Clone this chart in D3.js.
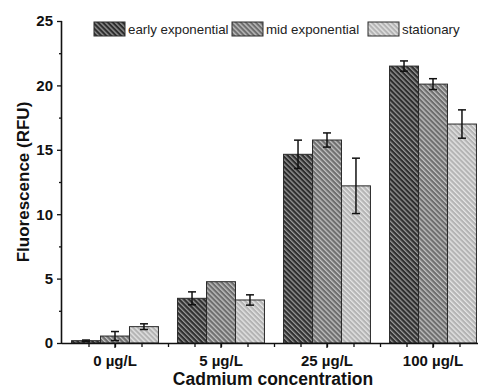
<!DOCTYPE html>
<html>
<head>
<meta charset="utf-8">
<script src="https://cdn.jsdelivr.net/npm/d3@7"></script>
<style>
  html, body { margin: 0; padding: 0; background: #fff; }
  svg { display: block; font-family: "Liberation Sans", Arial, sans-serif; }
</style>
</head>
<body>
<div id="target"></div>
<script>
const categories = ["0 µg/L", "5 µg/L", "25 µg/L", "100 µg/L"];
const seriesNames = ["early exponential", "mid exponential", "stationary"];
const earlyValues = [0.18, 3.47, 14.65, 21.5];
const earlyErrors = [0.05, 0.5, 1.1, 0.4];
const midValues = [0.54, 4.76, 15.76, 20.1];
const midErrors = [0.35, 0, 0.55, 0.42];
const statValues = [1.27, 3.34, 12.2, 17.0];
const statErrors = [0.22, 0.4, 2.15, 1.1];
const yMajorTicks = [0, 5, 10, 15, 20, 25];

function drawBars() {
  const width = 478,
    height = 390,
    left = 62,
    top = 21,
    bottom = 343,
    right = 486;

  const values = [earlyValues, midValues, statValues];
  const errors = [earlyErrors, midErrors, statErrors];
  const fills = [
    { base: "#2e2e2e", stripe: "#9a9a9a" },
    { base: "#6e6e6e", stripe: "#c4c4c4" },
    { base: "#b4b4b4", stripe: "#e6e6e6" }
  ];

  const rows = [];
  categories.forEach((c, i) => {
    seriesNames.forEach((s, j) => {
      rows.push({ cat: c, series: j, value: values[j][i], err: errors[j][i] });
    });
  });

  const x = d3.scaleBand()
    .domain(categories)
    .range([left, right])
    .paddingInner(0.18)
    .paddingOuter(0.09);

  const xSub = d3.scaleBand()
    .domain(d3.range(seriesNames.length))
    .range([0, x.bandwidth()]);

  const xLin = d3.scaleLinear()
    .domain([0.5, 4.5])
    .range([left, right]);

  const y = d3.scaleLinear()
    .domain([0, 25])
    .range([bottom, top]);

  const svg = d3.select("#target")
    .append("svg")
    .attr("width", width)
    .attr("height", height);

  const defs = svg.append("defs");
  fills.forEach((f, i) => {
    const p = defs.append("pattern")
      .attr("id", "hatch" + i)
      .attr("patternUnits", "userSpaceOnUse")
      .attr("width", 3.5)
      .attr("height", 4)
      .attr("patternTransform", "rotate(-45)");
    p.append("rect")
      .attr("width", 3.5)
      .attr("height", 4)
      .attr("fill", f.base);
    p.append("rect")
      .attr("width", 1.3)
      .attr("height", 4)
      .attr("fill", f.stripe);
  });

  // bars
  svg.append("g")
    .selectAll("rect")
    .data(rows)
    .enter()
    .append("rect")
    .attr("x", (d) => x(d.cat) + xSub(d.series))
    .attr("y", (d) => y(d.value))
    .attr("width", xSub.bandwidth())
    .attr("height", (d) => y(0) - y(d.value))
    .attr("fill", (d) => `url(#hatch${d.series})`)
    .attr("stroke", "#2a2a2a")
    .attr("stroke-width", 1);

  // error bars
  const eb = svg.append("g")
    .attr("stroke", "#111")
    .attr("stroke-width", 1.5)
    .selectAll("g")
    .data(rows.filter((d) => d.err > 0))
    .enter()
    .append("g")
    .attr("transform", (d) => `translate(${x(d.cat) + xSub(d.series) + xSub.bandwidth() / 2},0)`);
  eb.append("line")
    .attr("y1", (d) => y(d.value - d.err))
    .attr("y2", (d) => y(d.value + d.err));
  eb.append("line")
    .attr("x1", -4).attr("x2", 4)
    .attr("y1", (d) => y(d.value + d.err))
    .attr("y2", (d) => y(d.value + d.err));
  eb.append("line")
    .attr("x1", -4).attr("x2", 4)
    .attr("y1", (d) => y(d.value - d.err))
    .attr("y2", (d) => y(d.value - d.err));

  // y axis
  const yAxis = svg.append("g")
    .attr("transform", `translate(${left},0)`)
    .call(d3.axisLeft(y).tickValues(yMajorTicks).tickSize(5).tickPadding(4));
  svg.append("g")
    .attr("transform", `translate(${left},0)`)
    .call(d3.axisLeft(y).tickValues(d3.range(2.5, 25, 5)).tickSize(3).tickFormat(""))
    .select(".domain").remove();

  // x axis
  const xAxis = svg.append("g")
    .attr("transform", `translate(0,${bottom})`)
    .call(d3.axisBottom(x).tickSize(5).tickPadding(7));
  svg.append("g")
    .attr("transform", `translate(0,${bottom})`)
    .call(d3.axisBottom(xLin).tickValues(d3.range(0.75, 4.5, 0.25)).tickSize(4).tickFormat(""))
    .select(".domain").remove();

  svg.selectAll(".domain")
    .attr("stroke", "#111")
    .attr("stroke-width", 1.6);
  svg.selectAll(".tick line")
    .attr("stroke", "#111")
    .attr("stroke-width", 1.3);
  xAxis.select(".domain").attr("d", `M${left},0.5H${right}`);
  yAxis.select(".domain").attr("d", `M-0.5,${bottom}V${top}`);
  svg.selectAll(".tick text")
    .attr("font-family", "Liberation Sans, Arial, sans-serif")
    .attr("font-size", 15)
    .attr("font-weight", "bold")
    .attr("fill", "#111");

  // axis titles
  svg.append("text")
    .attr("x", 273)
    .attr("y", 385)
    .attr("text-anchor", "middle")
    .attr("font-size", 17.5)
    .attr("font-weight", "bold")
    .attr("fill", "#111")
    .text("Cadmium concentration");

  svg.append("text")
    .attr("transform", "translate(29,182) rotate(-90)")
    .attr("text-anchor", "middle")
    .attr("font-size", 17)
    .attr("font-weight", "bold")
    .attr("fill", "#111")
    .text("Fluorescence (RFU)");

  // legend
  const legendX = [94, 232, 368];
  const legend = svg.append("g")
    .selectAll("g")
    .data(seriesNames)
    .enter()
    .append("g")
    .attr("transform", (d, i) => `translate(${legendX[i]},22)`);
  legend.append("rect")
    .attr("width", 31)
    .attr("height", 14)
    .attr("fill", (d, i) => `url(#hatch${i})`)
    .attr("stroke", "#2a2a2a");
  legend.append("text")
    .attr("x", 34)
    .attr("y", 12)
    .attr("font-size", 13.3)
    .attr("fill", "#222")
    .text((d) => d);
}

drawBars();
</script>
</body>
</html>
